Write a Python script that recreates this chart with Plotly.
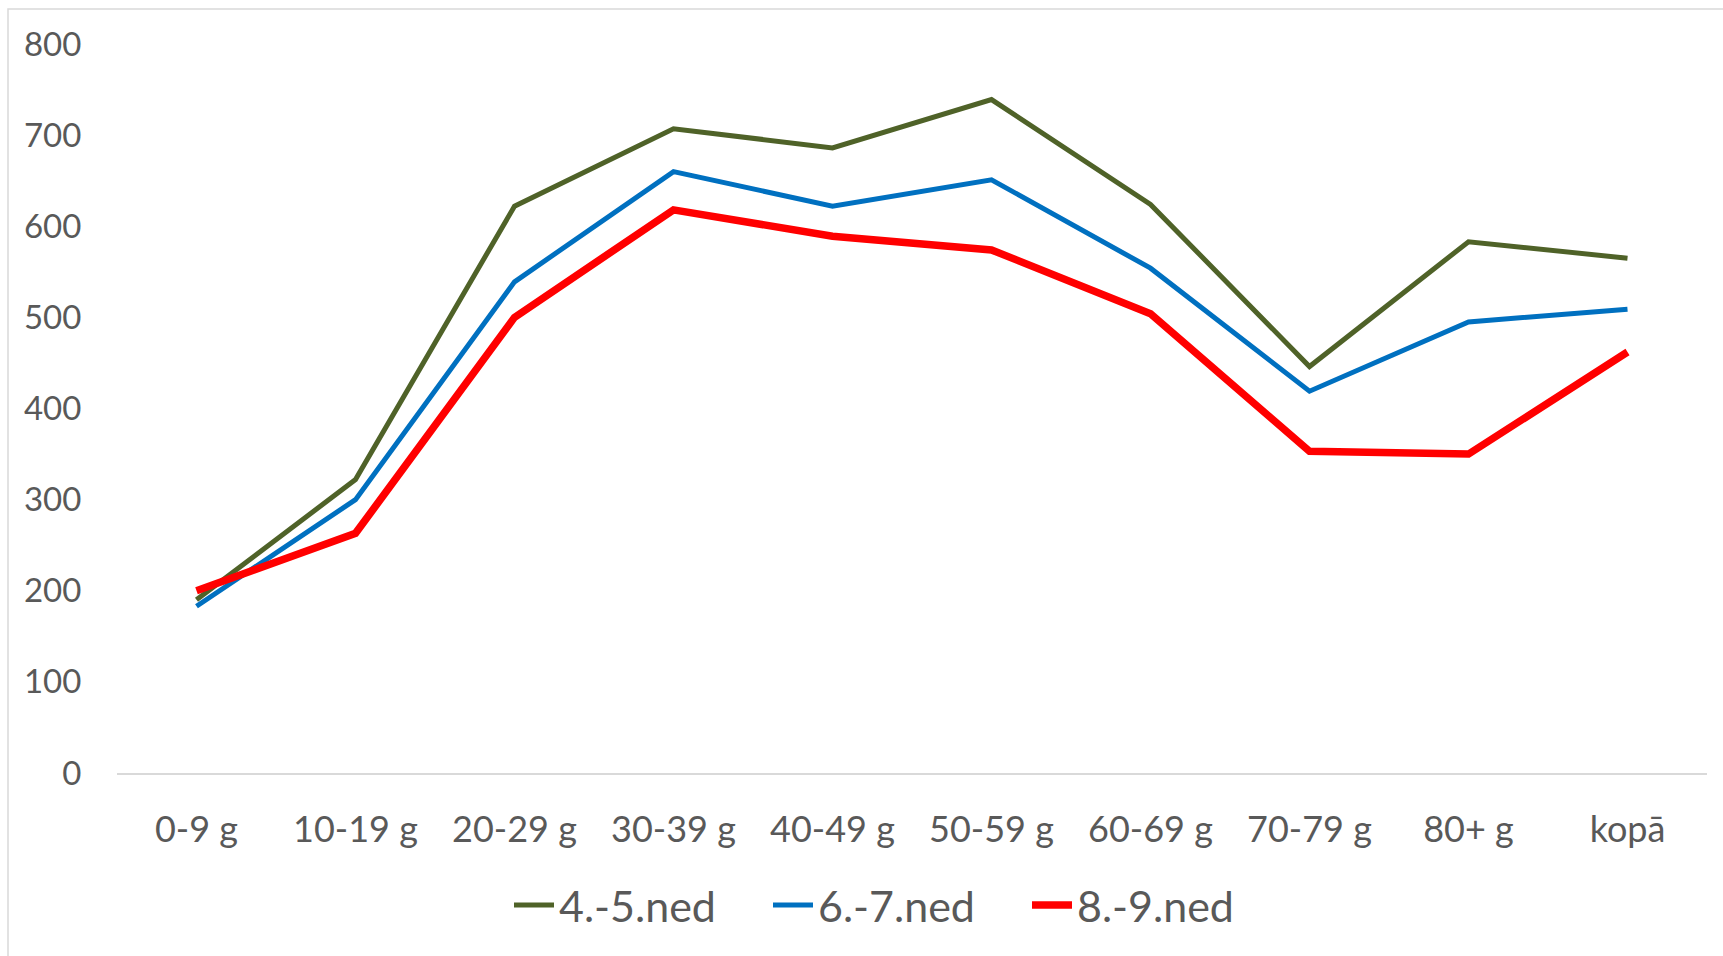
import plotly.graph_objects as go

categories = ["0-9 g", "10-19 g", "20-29 g", "30-39 g", "40-49 g", "50-59 g",
              "60-69 g", "70-79 g", "80+ g", "kopā"]
ned_4_5 = [190, 322, 622, 707, 686, 739, 624, 446, 583, 565]
ned_6_7 = [183, 300, 539, 660, 622, 651, 554, 419, 495, 509]
ned_8_9 = [200, 263, 500, 618, 589, 574, 504, 353, 350, 462]
series_names = ["4.-5.ned", "6.-7.ned", "8.-9.ned"]
y_ticks = [0, 100, 200, 300, 400, 500, 600, 700, 800]

W, H = 1723, 956
L, R, T, B = 117, 16, 44, 183

fig = go.Figure()
styles = [("#4F6228", 5), ("#0070C0", 5), ("#FF0000", 7.5)]
for name, vals, (col, w) in zip(series_names, [ned_4_5, ned_6_7, ned_8_9], styles):
    fig.add_trace(go.Scatter(x=categories, y=vals, name=name, mode="lines",
                             line=dict(color=col, width=w)))

pw = W - L - R
ph = H - T - B
fig.add_shape(type="rect", xref="paper", yref="paper",
              x0=(8 - L) / pw, x1=(W + 20 - L) / pw,
              y0=(H - B - (H + 20)) / ph, y1=(H - B - 9) / ph,
              line=dict(color="#D9D9D9", width=1.5), fillcolor="rgba(0,0,0,0)", layer="below")

fig.update_layout(
    width=W, height=H,
    margin=dict(l=L, r=R, t=T, b=B),
    paper_bgcolor="white", plot_bgcolor="white",
    font=dict(family="Lato", color="#595959"),
    showlegend=True,
    legend=dict(orientation="h", x=(509 - L) / pw, xanchor="left",
                y=(H - B - 905) / ph, yanchor="middle",
                font=dict(size=43, color="#595959"),
                entrywidth=204, entrywidthmode="pixels",
                itemwidth=40, tracegroupgap=0),
    xaxis=dict(type="category", range=[-0.5, 9.5], showgrid=False, zeroline=False,
               showline=True, linecolor="#D9D9D9", linewidth=1.5,
               ticks="outside", ticklen=24, tickcolor="rgba(0,0,0,0)",
               tickfont=dict(size=36, color="#595959")),
    yaxis=dict(range=[0, 800], tickvals=y_ticks, showgrid=False, zeroline=False,
               showline=False, ticks="outside", ticklen=28, tickcolor="rgba(0,0,0,0)",
               tickfont=dict(size=33, color="#595959")),
)

fig.write_html("out.html", config={"displayModeBar": False},
               post_script="document.body.style.margin='0';")
